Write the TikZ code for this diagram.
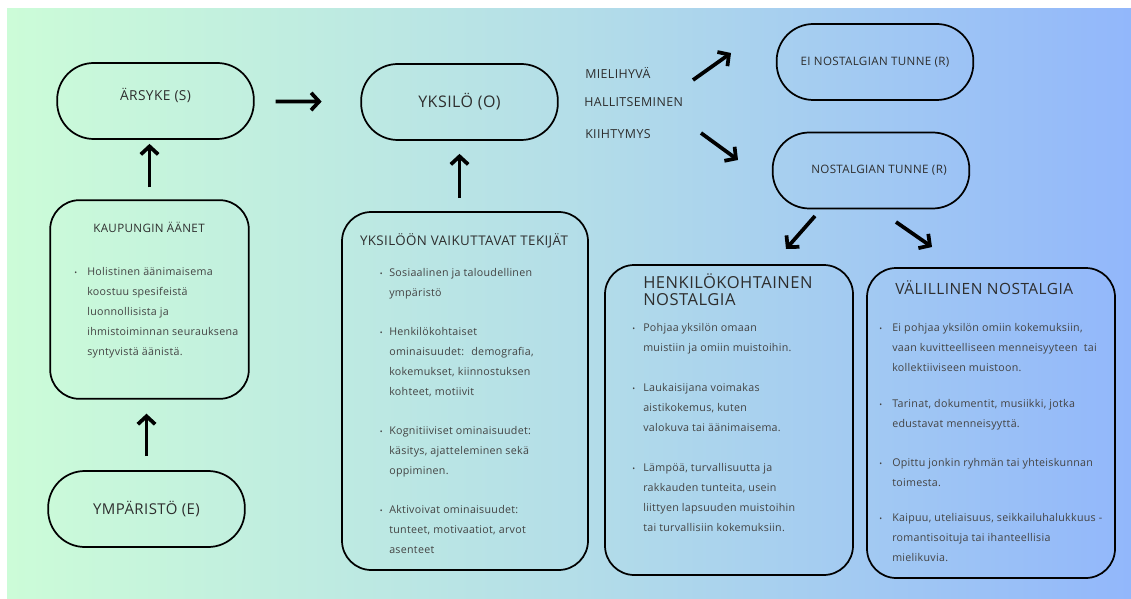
\documentclass[tikz,border=0pt]{standalone}
\usepackage{fontspec}
\usepackage{graphicx}
\setmainfont{Open Sans}
\newfontfamily\spaced[LetterSpace=2.7]{Open Sans}
\newfontfamily\headfont[LetterSpace=3]{Open Sans}
\usetikzlibrary{arrows.meta}

\definecolor{mint}{HTML}{CCFCD8}
\definecolor{sky}{HTML}{B4DEE8}
\definecolor{periwinkle}{HTML}{92B7FB}
\definecolor{ink}{HTML}{2E2E2E}

\newcommand{\lines}[1]{\begin{tabular}[t]{@{}l@{}}#1\end{tabular}}
\newcommand{\bul}[1][6pt]{\llap{\scalebox{0.7}{\textbullet}\hspace{#1}}}

\tikzset{
    pill/.style={draw, line width=1.3pt, rounded corners=27.5pt, minimum width=147.5pt, minimum height=57pt, text=ink},
    panel/.style={draw, line width=1.3pt, rounded corners=22pt},
    heading/.style={text=ink, inner sep=0pt},
    mood/.style={text=ink, inner sep=0pt, anchor=west, font=\headfont\fontsize{9.3}{11}\selectfont},
    body/.style={text=ink!90, inner sep=0pt, anchor=base west, font=\spaced\fontsize{8}{15}\selectfont},
    arr/.style={line width=2.8pt, -{Straight Barb[length=6pt, width=13pt]}}
}

\begin{document}
\begin{tikzpicture}[x=0.75pt, y=-0.75pt]
    \useasboundingbox (0,0) rectangle (1131,599);
    \shade[left color=mint, right color=periwinkle, middle color=sky] (7,9) rectangle (1131,599);

    \node[pill, font=\headfont\fontsize{10.3}{12}\selectfont] (ars) at (155.5,101) {\raisebox{4.5pt}[\height][\depth]{ÄRSYKE (S)}};
    \node[pill, font=\headfont\fontsize{12}{14}\selectfont] (yks) at (459.5,102) {YKSILÖ (O)};
    \node[pill, font=\headfont\fontsize{11.2}{13}\selectfont] (ymp) at (146.5,509) {YMPÄRISTÖ (E)};
    \node[pill, font=\headfont\fontsize{8.7}{10}\selectfont] (ei) at (875,62) {EI NOSTALGIAN TUNNE (R)};
    \node[pill, font=\headfont\fontsize{8.7}{10}\selectfont] (nos) at (871,170.5) {\hspace{12pt}NOSTALGIAN TUNNE (R)};

    \node[panel, minimum width=149pt, minimum height=149pt] (kau) at (149.5,299.5) {};
    \node[panel, minimum width=184.5pt, minimum height=268.5pt] (tek) at (465,391) {};
    \node[panel, minimum width=186pt, minimum height=232.5pt] (hen) at (729,420) {};
    \node[panel, minimum width=186pt, minimum height=232.5pt] (val) at (991,423) {};

    \node[heading, font=\headfont\fontsize{8.7}{10}\selectfont] (kautitle) at (149,227) {KAUPUNGIN ÄÄNET};
    \node[heading, font=\headfont\fontsize{10}{12}\selectfont] (tektitle) at (464,241) {YKSILÖÖN VAIKUTTAVAT TEKIJÄT};
    \node[heading, anchor=base west, font=\headfont\fontsize{12.4}{13}\selectfont] (hentitle) at (643,288) {\lines{HENKILÖKOHTAINEN\\NOSTALGIA}};
    \node[heading, anchor=west, font=\headfont\fontsize{11.6}{13}\selectfont] (valtitle) at (895,288) {VÄLILLINEN NOSTALGIA};

    \node[body] (kau1) at (87,275) {\lines{\bul[7.5pt]Holistinen äänimaisema\\koostuu spesifeistä\\luonnollisista ja\\ihmistoiminnan seurauksena\\syntyvistä äänistä.}};

    \node[body] (tek1) at (389,276) {\lines{\bul[5pt]Sosiaalinen ja taloudellinen\\ympäristö}};
    \node[body] (tek2) at (389,335) {\lines{\bul[5pt]Henkilökohtaiset\\ominaisuudet:~ demografia,\\kokemukset, kiinnostuksen\\kohteet, motiivit}};
    \node[body] (tek3) at (389,434) {\lines{\bul[5pt]Kognitiiviset ominaisuudet:\\käsitys, ajatteleminen sekä\\oppiminen.}};
    \node[body] (tek4) at (389,513) {\lines{\bul[5pt]Aktivoivat ominaisuudet:\\tunteet, motivaatiot, arvot\\asenteet}};

    \node[body] (hen1) at (643,331) {\lines{\bul Pohjaa yksilön omaan\\muistiin ja omiin muistoihin.}};
    \node[body] (hen2) at (643,391) {\lines{\bul Laukaisijana voimakas\\aistikokemus, kuten\\valokuva tai äänimaisema.}};
    \node[body] (hen3) at (643,471) {\lines{\bul Lämpöä, turvallisuutta ja\\rakkauden tunteita, usein\\liittyen lapsuuden muistoihin\\tai turvallisiin kokemuksiin.}};

    \node[body] (val1) at (892,331) {\lines{\bul[7.5pt]Ei pohjaa yksilön omiin kokemuksiin,\\vaan kuvitteelliseen menneisyyteen~ tai\\kollektiiviseen muistoon.}};
    \node[body] (val2) at (892,407) {\lines{\bul[7.5pt]Tarinat, dokumentit, musiikki, jotka\\edustavat menneisyyttä.}};
    \node[body] (val3) at (892,466) {\lines{\bul[7.5pt]Opittu jonkin ryhmän tai yhteiskunnan\\toimesta.}};
    \node[body] (val4) at (892,521) {\lines{\bul[7.5pt]Kaipuu, uteliaisuus, seikkailuhalukkuus -\\romantisoituja tai ihanteellisia\\mielikuvia.}};

    \node[mood] (mieli) at (585,73) {MIELIHYVÄ};
    \node[mood] (hall) at (584,102) {HALLITSEMINEN};
    \node[mood] (kiih) at (585,134) {KIIHTYMYS};

    \coordinate (up0) at (693,80);
    \coordinate (up1) at (731,53);
    \coordinate (dn0) at (701,133);
    \coordinate (dn1) at (738,160);
    \coordinate (hen0) at (815,216);
    \coordinate (hen1) at (786,249);
    \coordinate (val0) at (896,222);
    \coordinate (val1) at (932,247);

    \draw[arr, shorten <=15.75pt, shorten >=29pt] (ars) -- (yks);
    \draw[arr, shorten <=9pt, shorten >=3pt] (kau.north) -- (kau.north |- ars.south);
    \draw[arr, shorten <=10.5pt, shorten >=10.5pt] (ymp.north) -- (ymp.north |- kau.south);
    \draw[arr, shorten <=9.75pt, shorten >=9.75pt] (yks.south |- tek.north) -- (yks.south);
    \draw[arr] (up0) -- (up1);
    \draw[arr] (dn0) -- (dn1);
    \draw[arr] (hen0) -- (hen1);
    \draw[arr] (val0) -- (val1);
\end{tikzpicture}
\end{document}
